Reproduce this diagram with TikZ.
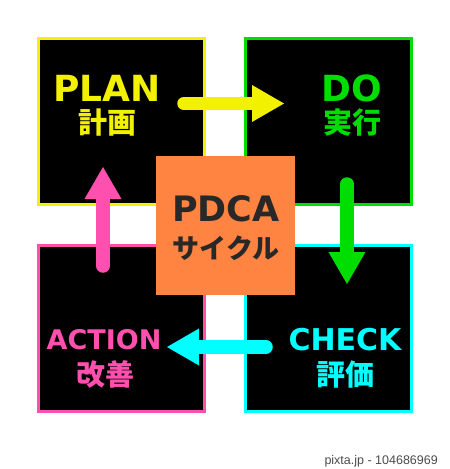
\documentclass[tikz,border=0pt]{standalone}
\usepackage{fontspec}
\setmainfont{DejaVu Sans}
\newfontfamily\jp{Noto Sans CJK JP}
\newfontfamily\footfont{Liberation Sans}
\definecolor{cyel}{RGB}{242,242,0}
\definecolor{cgrn}{RGB}{0,221,0}
\definecolor{ccya}{RGB}{0,255,255}
\definecolor{cpnk}{RGB}{255,80,176}
\definecolor{corg}{RGB}{255,132,66}
\definecolor{ctxt}{RGB}{40,40,40}
\begin{document}
\begin{tikzpicture}[x=1pt,y=-1pt,
  quad/.style={draw=#1,fill=black,line width=3pt,minimum width=166pt,minimum height=166pt,inner sep=0pt},
  en/.style={font=\bfseries\fontsize{#1}{#1}\selectfont,inner sep=0pt},
  ja/.style={font=\jp\bfseries\fontsize{#1}{#1}\selectfont,inner sep=0pt},
  shaft/.style={line width=13.5pt,line cap=round,draw=#1}]
\useasboundingbox (0,0) rectangle (450,469);
\fill[white] (0,0) rectangle (450,469);
% quadrants
\node[quad=cyel] (plan) at (121.5,121.5) {};
\node[quad=cgrn] (do) at (328.5,121.5) {};
\node[quad=cpnk] (act) at (121.5,328.5) {};
\node[quad=ccya] (chk) at (328.5,328.5) {};
% centre
\node[fill=corg,minimum width=139pt,minimum height=139pt,inner sep=0pt] (pdca) at (225.5,225.5) {};
% labels
\node[en=36pt,text=cyel] (planL) at (107,88) {PLAN};
\node[ja=29pt,text=cyel] (planJ) at (107,123) {計画};
\node[en=36pt,text=cgrn] (doL) at (352,88) {DO};
\node[ja=29pt,text=cgrn] (doJ) at (352,123) {実行};
\node[en=27pt,text=cpnk] (actL) at (104,340) {ACTION};
\node[ja=29pt,text=cpnk] (actJ) at (105,375) {改善};
\node[en=30pt,text=ccya] (chkL) at (345,340) {CHECK};
\node[ja=29pt,text=ccya] (chkJ) at (345,375) {評価};
\node[en=35pt,text=ctxt] (pdcaL) at (226,209) {PDCA};
\node[ja=27pt,text=ctxt] (pdcaJ) at (226,248) {サイクル};
% arrow coordinates
\coordinate (yT) at (184,103.5); \coordinate (yB) at (252,103.5); \coordinate (yH) at (284,103.5);
\coordinate (gT) at (347,184); \coordinate (gB) at (347,252); \coordinate (gH) at (347,284);
\coordinate (cT) at (266,347); \coordinate (cB) at (199,347); \coordinate (cH) at (167,347);
\coordinate (pT) at (103,266); \coordinate (pB) at (103,199); \coordinate (pH) at (103,167);
% arrows
\draw[shaft=cyel] (yT) -- (yB);
\fill[cyel] ([yshift=18.5pt]yB) -- (yH) -- ([yshift=-18.5pt]yB) -- cycle;
\draw[shaft=cgrn] (gT) -- (gB);
\fill[cgrn] ([xshift=18.5pt]gB) -- (gH) -- ([xshift=-18.5pt]gB) -- cycle;
\draw[shaft=ccya] (cT) -- (cB);
\fill[ccya] ([yshift=18.5pt]cB) -- (cH) -- ([yshift=-18.5pt]cB) -- cycle;
\draw[shaft=cpnk] (pT) -- (pB);
\fill[cpnk] ([xshift=18.5pt]pB) -- (pH) -- ([xshift=-18.5pt]pB) -- cycle;
% footer
\node[font=\footfont\fontsize{12.5pt}{12.5pt}\selectfont,text=black!70,anchor=east,inner sep=0pt] (foot) at (438,461) {pixta.jp - 104686969};
\end{tikzpicture}
\end{document}
